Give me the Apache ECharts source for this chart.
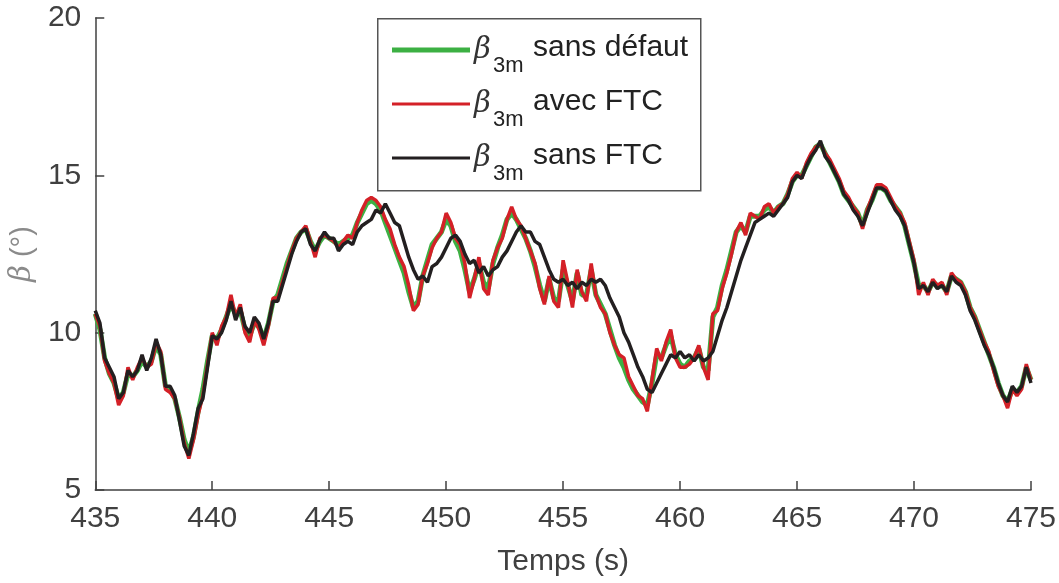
<!DOCTYPE html>
<html>
<head>
<meta charset="utf-8">
<script src="https://cdn.jsdelivr.net/npm/echarts@6/dist/echarts.min.js"></script>
<style>html,body{margin:0;padding:0;background:#fff;}#c{width:1059px;height:583px;}</style>
</head>
<body>
<div id="c"></div>
<script>
// time axis: samples every 0.2 s starting at 435 s
var tStart = 435;
var tStep = 0.2;
var xTicks = [435, 440, 445, 450, 455, 460, 465, 470, 475];
var yTicks = [5, 10, 15, 20];
var seriesNames = ['β3m sans défaut', 'β3m avec FTC', 'β3m sans FTC'];

// beta_3m sans défaut (green)
var sansDefaut = [
 10.6,10.1,9.2,8.7,8.4, 7.9,8.1,8.7,8.6,8.8, 9.1,8.9,9.1,9.6,9.3, 8.3,8.2,7.9,7.3,6.6,
 6.2,6.7,7.5,8.2,9.1, 9.9,9.8,10.1,10.5,10.9, 10.6,10.7,10.1,9.9,10.3, 10.2,9.8,10.3,11.0,11.2,
 11.7,12.2,12.6,13.0,13.2, 13.3,12.9,12.6,12.9,13.1, 13.0,12.9,12.8,12.9,13.0, 13.1,13.5,13.8,14.1,14.2,
 14.1,13.9,13.5,13.1,12.7, 12.3,11.9,11.3,10.8,11.0, 11.8,12.3,12.8,13.0,13.2, 13.6,13.4,12.9,12.6,12.0,
 11.3,11.7,12.2,11.6,11.4, 12.2,12.7,13.1,13.6,13.8, 13.6,13.3,13.0,12.6,12.1, 11.5,11.0,11.7,11.1,11.0,
 12.0,11.5,11.0,11.9,11.2, 11.2,12.0,11.2,10.9,10.6, 10.1,9.6,9.2,8.9,8.5, 8.2,8.0,7.8,7.7,8.4,
 9.3,9.2,9.6,9.9,9.3, 9.0,8.9,9.1,9.2,9.5, 8.9,8.8,10.5,10.8,11.5, 12.0,12.6,13.2,13.4,13.2,
 13.7,13.7,13.7,13.9,14.0, 13.8,14.0,14.1,14.4,14.8, 15.0,15.0,15.3,15.6,15.9, 16.0,15.7,15.4,15.1,14.8,
 14.4,14.2,14.0,13.8,13.4, 13.9,14.2,14.6,14.6,14.5, 14.2,14.0,13.8,13.4,12.8, 12.2,11.5,11.5,11.3,11.6,
 11.5,11.5,11.3,11.8,11.7, 11.6,11.3,10.8,10.5,10.1, 9.7,9.3,8.9,8.4,8.0, 7.8,8.2,8.1,8.3,8.9,
 8.5
];

// beta_3m avec FTC (red)
var avecFTC = [
 10.6,10.2,9.1,8.7,8.4, 7.7,8.0,8.9,8.5,8.9, 9.2,8.9,9.0,9.7,9.4, 8.2,8.1,7.9,7.3,6.5,
 6.0,6.6,7.4,8.0,9.0, 10.0,9.6,10.2,10.5,11.2, 10.5,10.9,10.0,9.7,10.4, 10.1,9.6,10.2,11.1,11.1,
 11.6,12.1,12.6,13.0,13.2, 13.4,12.9,12.4,13.0,13.1, 13.0,12.9,12.7,12.9,13.1, 13.0,13.5,13.9,14.2,14.3,
 14.2,14.0,13.6,13.3,12.8, 12.4,12.1,11.5,10.7,10.9, 11.8,12.2,12.7,13.0,13.2, 13.8,13.5,13.0,12.8,12.2,
 11.1,11.7,12.4,11.4,11.2, 12.3,12.7,13.0,13.6,14.0, 13.6,13.4,13.0,12.6,12.2, 11.4,10.9,11.8,11.0,10.8,
 12.3,11.6,10.8,12.0,11.3, 11.0,12.2,11.2,10.8,10.6, 10.0,9.6,9.3,9.2,8.6, 8.3,8.0,7.9,7.5,8.5,
 9.5,9.1,9.7,10.1,9.2, 8.9,8.9,9.0,9.2,9.6, 8.9,8.5,10.6,10.7,11.4, 11.9,12.5,13.2,13.5,13.1,
 13.8,13.7,13.6,14.0,14.1, 13.8,14.0,14.1,14.4,14.9, 15.1,14.9,15.4,15.7,15.9, 16.0,15.7,15.5,15.2,14.9,
 14.5,14.3,14.0,13.8,13.3, 13.9,14.3,14.7,14.7,14.6, 14.3,14.0,13.8,13.5,12.9, 12.3,11.2,11.6,11.2,11.7,
 11.5,11.6,11.2,11.9,11.7, 11.6,11.3,10.8,10.5,10.1, 9.7,9.4,8.8,8.3,8.0, 7.6,8.2,8.0,8.2,9.0,
 8.5
];

// beta_3m sans FTC (black)
var sansFTC = [
 10.7,10.3,9.2,8.9,8.6, 7.9,8.1,8.8,8.6,8.8, 9.3,8.8,9.2,9.8,9.3, 8.3,8.3,8.0,7.2,6.4,
 6.1,6.8,7.6,7.9,8.9, 9.9,9.8,10.0,10.4,11.0, 10.4,10.8,10.2,10.0,10.5, 10.3,9.8,10.3,11.0,11.0,
 11.5,12.0,12.5,12.9,13.2, 13.3,12.8,12.6,12.95,13.2, 13.0,13.0,12.6,12.8,12.9, 12.8,13.2,13.4,13.5,13.6,
 13.9,13.8,14.1,13.8,13.5, 13.4,12.9,12.4,12.0,11.7, 11.8,11.6,12.1,12.2,12.4, 12.7,13.0,13.1,12.9,12.5,
 12.2,12.3,11.9,12.1,11.8, 12.0,12.1,12.4,12.6,12.9, 13.2,13.4,13.2,13.2,12.9, 12.8,12.4,12.0,11.7,11.6,
 11.7,11.5,11.6,11.4,11.6, 11.5,11.7,11.6,11.7,11.5, 11.1,10.8,10.5,10.0,9.7, 9.3,8.9,8.6,8.2,8.1,
 8.4,8.7,9.0,9.3,9.2, 9.4,9.2,9.3,9.1,9.3, 9.1,9.2,9.4,9.9,10.4, 10.8,11.3,11.8,12.3,12.7,
 13.1,13.5,13.6,13.7,13.8, 13.7,13.9,14.1,14.3,14.8, 15.0,14.9,15.3,15.6,15.8, 16.1,15.6,15.4,15.1,14.8,
 14.4,14.2,13.9,13.7,13.4, 13.8,14.2,14.6,14.6,14.5, 14.2,13.9,13.7,13.4,12.8, 12.2,11.4,11.5,11.3,11.6,
 11.4,11.5,11.3,11.8,11.6, 11.5,11.2,10.7,10.4,10.0, 9.6,9.3,8.9,8.4,8.0, 7.8,8.3,8.1,8.3,8.9,
 8.4
];

function pairs(vals){
  return vals.map(function(v,i){ return [+(tStart + i*tStep).toFixed(1), v]; });
}

var FONT = '"Liberation Sans", Arial, Helvetica, sans-serif';
var TXT = '#404040';

var chart = echarts.init(document.getElementById('c'), null, {renderer:'canvas'});

// legend built as graphic elements
var legX = 377, legY = 18, legW = 323, legH = 172;
var rowY = [50, 104, 158];
var legColors = ['#3cb043', '#d42027', '#231f20'];
var legWidths = [5, 3, 3];
var legTexts = ['sans défaut', 'avec FTC', 'sans FTC'];
var graphics = [{
  type:'rect', left:legX, top:legY, z:10,
  shape:{x:0,y:0,width:legW,height:legH},
  style:{fill:'#fff', stroke:'#555', lineWidth:1.5}
}];
for (var k=0;k<3;k++){
  graphics.push({type:'line', z:11, shape:{x1:legX+15,y1:rowY[k],x2:legX+93,y2:rowY[k]},
    style:{stroke:legColors[k], lineWidth:legWidths[k]}});
  graphics.push({type:'text', z:11, x:legX+97, y:rowY[k], style:{
    text:'β', font:'italic 29px "DejaVu Serif", serif', fill:'#333', textVerticalAlign:'middle'}});
  graphics.push({type:'text', z:11, x:legX+116, y:rowY[k]+16, style:{
    text:'3m', font:'22px ' + FONT, fill:'#222', textVerticalAlign:'middle'}});
  graphics.push({type:'text', z:11, x:legX+156, y:rowY[k]-2, style:{
    text:legTexts[k], font:'30px ' + FONT, fill:'#222', textVerticalAlign:'middle'}});
}

chart.setOption({
  animation:false,
  backgroundColor:'#fff',
  grid:{left:95, right:27, top:18, bottom:93, containLabel:false},
  xAxis:{
    type:'value', min:435, max:475, interval:5,
    name:'Temps (s)', nameLocation:'middle', nameGap:57,
    nameTextStyle:{fontFamily:FONT, fontSize:30, color:TXT},
    axisLine:{show:true, onZero:false, lineStyle:{color:TXT, width:1.5}},
    axisTick:{show:true, inside:true, length:9, lineStyle:{color:TXT, width:1.5}},
    axisLabel:{fontFamily:FONT, fontSize:30, color:TXT, margin:14,
      customValues: xTicks, formatter:function(v){return String(v);}},
    splitLine:{show:false}
  },
  yAxis:{
    type:'value', min:5, max:20, interval:5,
    name:'{b|β} (°)', nameLocation:'middle', nameGap:52, nameRotate:90,
    nameTextStyle:{fontFamily:FONT, fontSize:29, color:'#8a8a8a',
      rich:{b:{fontFamily:'"DejaVu Serif", serif', fontStyle:'italic', fontSize:29, color:'#8a8a8a'}}},
    axisLine:{show:true, lineStyle:{color:TXT, width:1.5}},
    axisTick:{show:true, inside:true, length:9, lineStyle:{color:TXT, width:1.5}},
    axisLabel:{fontFamily:FONT, fontSize:30, color:TXT, margin:14,
      customValues: yTicks, formatter:function(v){return String(v);}},
    splitLine:{show:false}
  },
  series:[
    {name:seriesNames[0], type:'line', data:pairs(sansDefaut), showSymbol:false, symbol:'none',
      lineStyle:{color:'#3cb043', width:5}, z:2},
    {name:seriesNames[1], type:'line', data:pairs(avecFTC), showSymbol:false, symbol:'none',
      lineStyle:{color:'#d42027', width:3.5}, z:3},
    {name:seriesNames[2], type:'line', data:pairs(sansFTC), showSymbol:false, symbol:'none',
      lineStyle:{color:'#231f20', width:3.5}, z:4}
  ],
  graphic: graphics
});
</script>
</body>
</html>
